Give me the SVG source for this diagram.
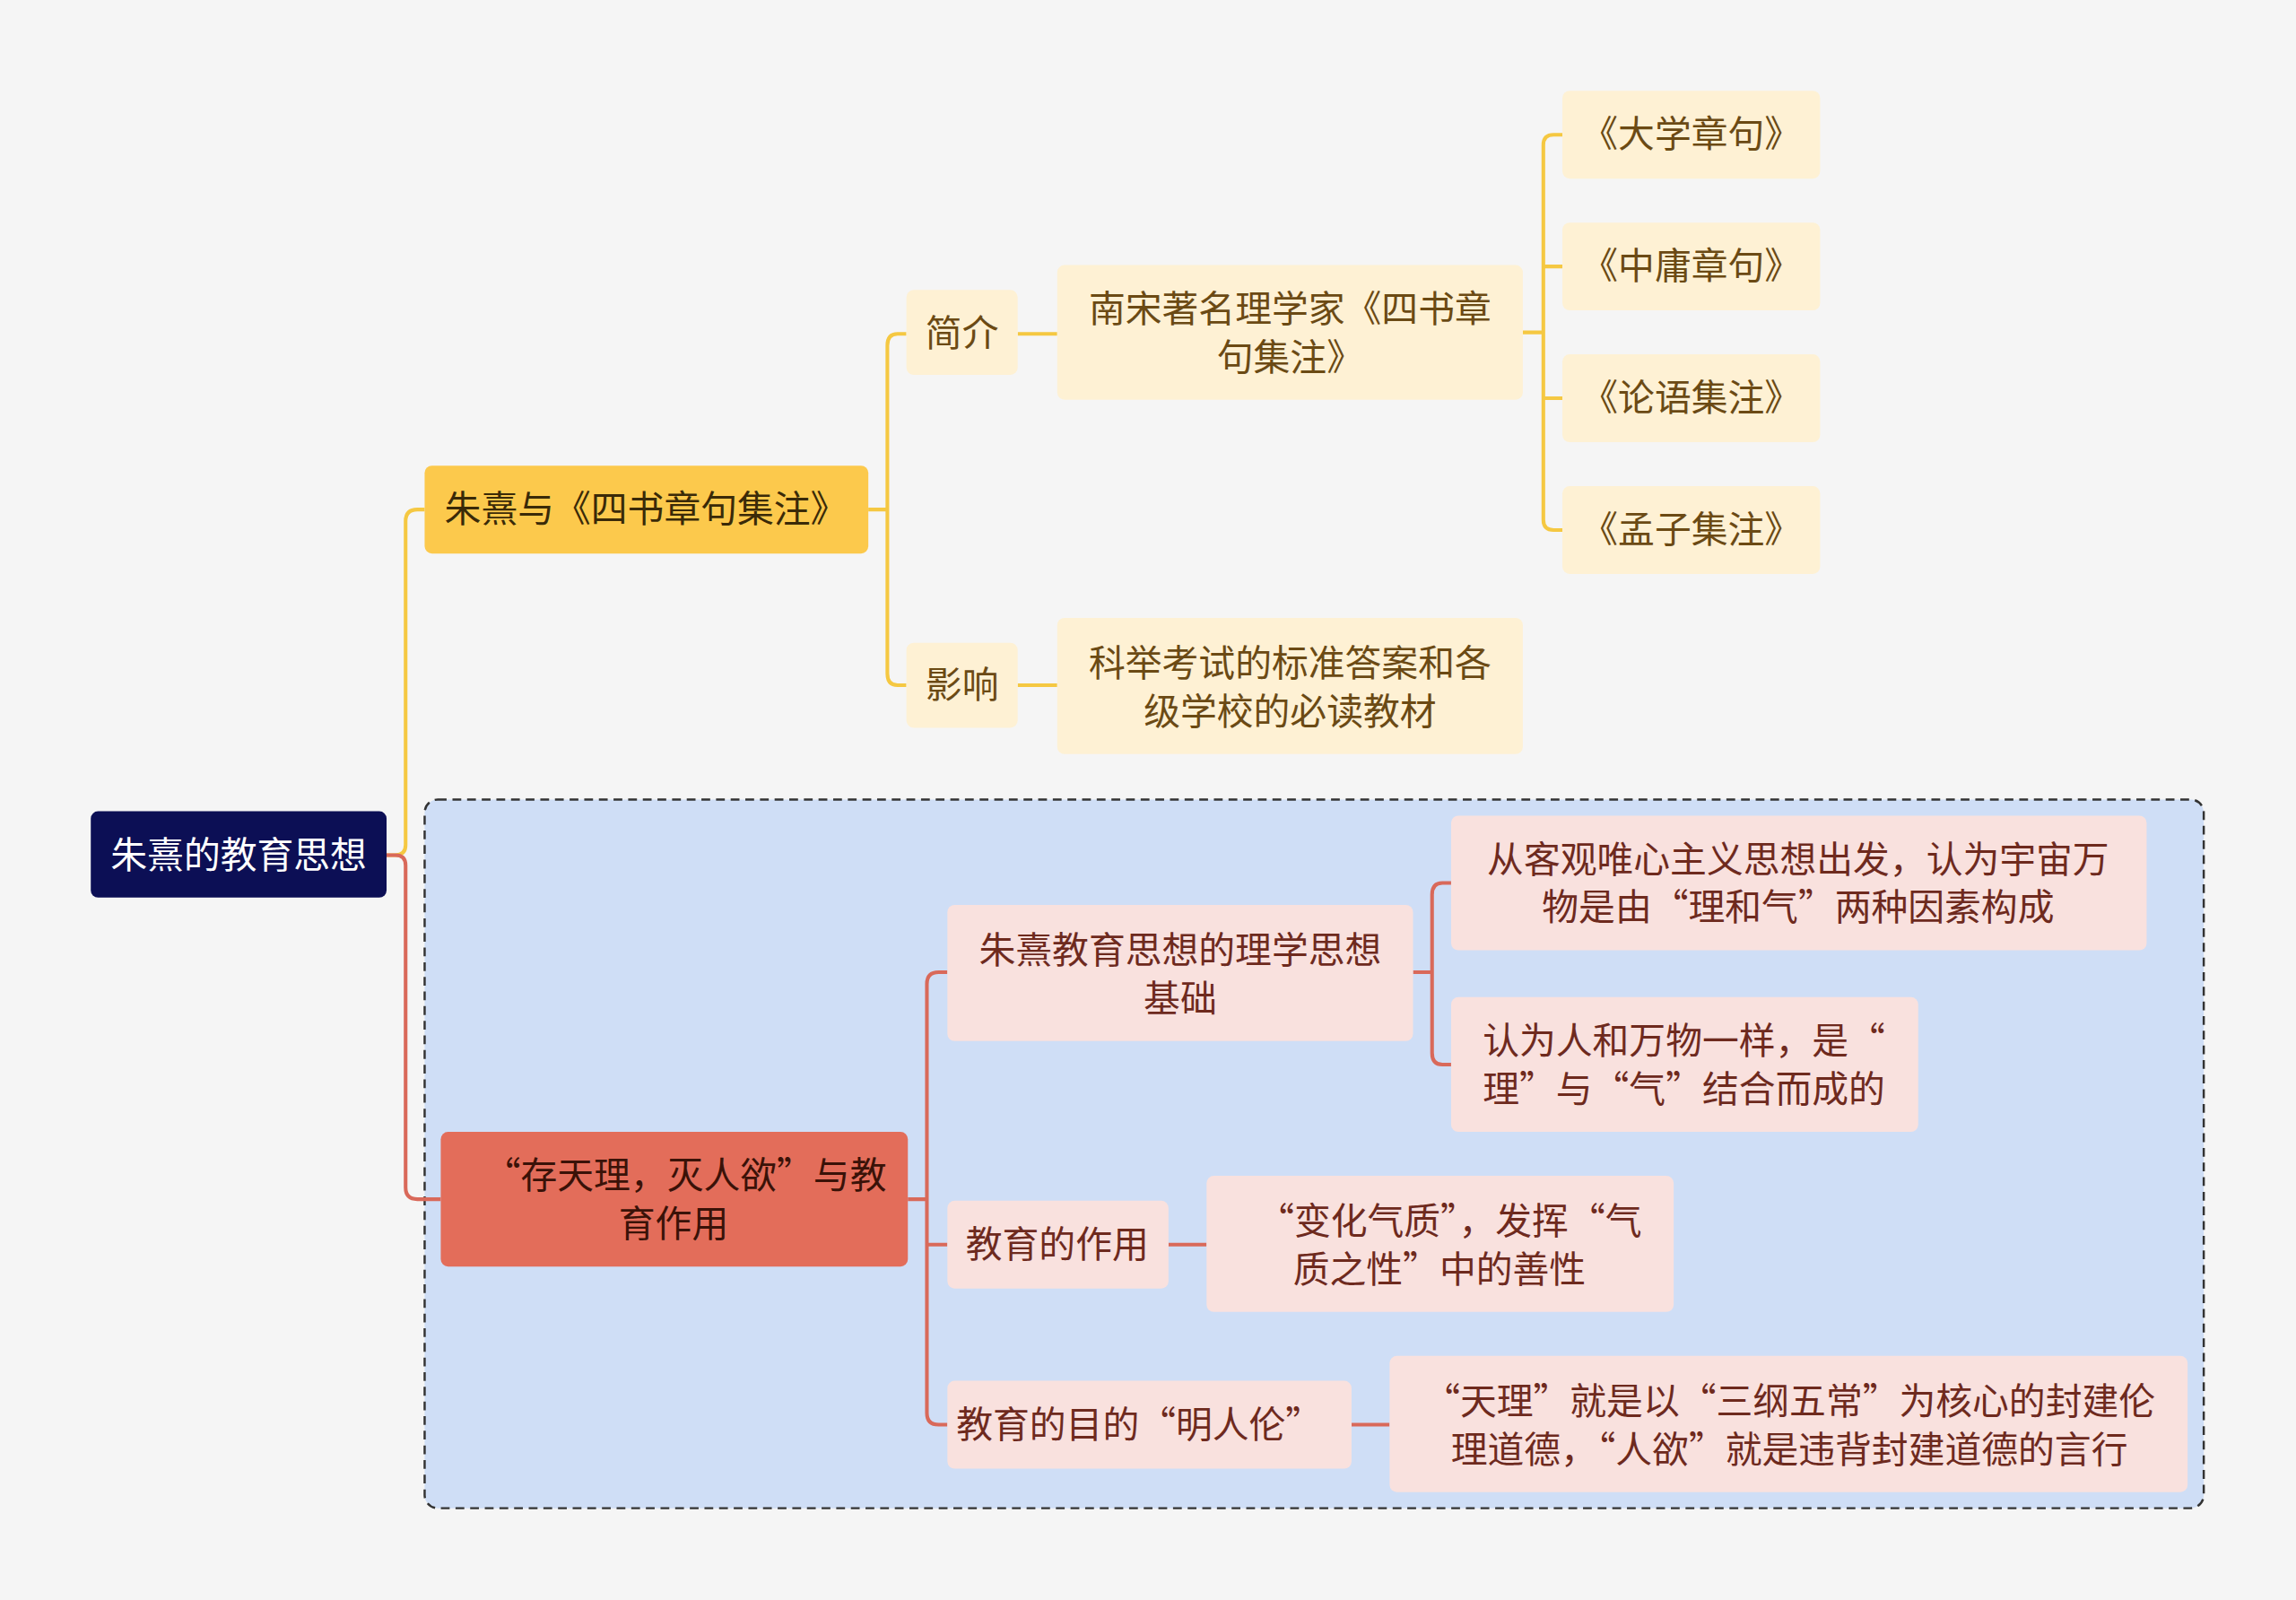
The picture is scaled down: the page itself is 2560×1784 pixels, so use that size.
<svg xmlns="http://www.w3.org/2000/svg" width="2560" height="1784" viewBox="0 0 2560 1784">
<style>
text{font-family:"Noto Sans CJK SC","Noto Sans",sans-serif;font-size:25px;text-anchor:middle;dominant-baseline:central}
.y{fill:#fef1d4}.r{fill:#f9e1de}
.ty{fill:#6b4a14}.tr{fill:#6e2a1e}
.cy{fill:none;stroke:#f5c842;stroke-width:2.5}
.cr{fill:none;stroke:#d9695a;stroke-width:2.5}
</style>
<rect width="2560" height="1784" fill="#f5f5f5"/>
<g transform="scale(1.63265)">
<rect x="290" y="546" width="1215" height="484" rx="9" fill="#cfdef6" stroke="#333" stroke-width="1.5" stroke-dasharray="6 4"/>
<g id="connectors">
<path class="cy" d="M264 584H270Q277 584 277 577V356Q277 348 285 348H290"/>
<path class="cr" d="M264 584H270Q277 584 277 591V811Q277 819 285 819H301"/>
<path class="cy" d="M593 348H606M619 228H613Q606 228 606 236V460Q606 468 613 468H619"/>
<path class="cy" d="M695 228H722M695 468H722"/>
<path class="cy" d="M1040 227H1054M1067 92H1061Q1054 92 1054 99V355Q1054 362 1061 362H1067M1054 182H1067M1054 272H1067"/>
<path class="cr" d="M620 819H633M647 664H641Q633 664 633 672V965Q633 973 641 973H647M633 850H647"/>
<path class="cr" d="M965 664H978M991 603H985Q978 603 978 611V719Q978 727 985 727H991"/>
<path class="cr" d="M798 850H824M923 973H949"/>
</g>
<g id="root"><rect x="62" y="554" width="202" height="59" rx="5" fill="#0c0f55"/><text x="163" y="582" fill="#fff">朱熹的教育思想</text></g>
<g id="b1"><rect x="290" y="318" width="303" height="60" rx="5" fill="#fcc94c"/><text x="441" y="346" fill="#3a2a08">朱熹与《四书章句集注》</text></g>
<g id="jj"><rect class="y" x="619" y="198" width="76" height="58" rx="5"/><text class="ty" x="657" y="226">简介</text></g>
<g id="ns"><rect class="y" x="722" y="181" width="318" height="92" rx="5"/><text class="ty" x="881" y="209">南宋著名理学家《四书章</text><text class="ty" x="881" y="242">句集注》</text></g>
<g id="yx"><rect class="y" x="619" y="439" width="76" height="58" rx="5"/><text class="ty" x="657" y="466">影响</text></g>
<g id="kj"><rect class="y" x="722" y="422" width="318" height="93" rx="5"/><text class="ty" x="881" y="451">科举考试的标准答案和各</text><text class="ty" x="881" y="484">级学校的必读教材</text></g>
<g id="dx"><rect class="y" x="1067" y="62" width="176" height="60" rx="5"/><text class="ty" x="1155" y="90">《大学章句》</text></g>
<g id="zy"><rect class="y" x="1067" y="152" width="176" height="60" rx="5"/><text class="ty" x="1155" y="180">《中庸章句》</text></g>
<g id="ly"><rect class="y" x="1067" y="242" width="176" height="60" rx="5"/><text class="ty" x="1155" y="270">《论语集注》</text></g>
<g id="mz"><rect class="y" x="1067" y="332" width="176" height="60" rx="5"/><text class="ty" x="1155" y="360">《孟子集注》</text></g>
<g id="b2"><rect x="301" y="773" width="319" height="92" rx="5" fill="#e36d5a"/><text x="468" y="801" fill="#3a1208">“存天理，灭人欲”与教</text><text x="460" y="834" fill="#3a1208">育作用</text></g>
<g id="lx"><rect class="r" x="647" y="618" width="318" height="93" rx="5"/><text class="tr" x="806" y="647">朱熹教育思想的理学思想</text><text class="tr" x="806" y="680">基础</text></g>
<g id="ck"><rect class="r" x="991" y="557" width="475" height="92" rx="5"/><text class="tr" x="1228" y="585">从客观唯心主义思想出发，认为宇宙万</text><text class="tr" x="1228" y="618">物是由“理和气”两种因素构成</text></g>
<g id="rw"><rect class="r" x="991" y="681" width="319" height="92" rx="5"/><text class="tr" x="1150" y="709">认为人和万物一样，是“</text><text class="tr" x="1150" y="742">理”与“气”结合而成的</text></g>
<g id="zyy"><rect class="r" x="647" y="820" width="151" height="60" rx="5"/><text class="tr" x="722" y="848">教育的作用</text></g>
<g id="bh"><rect class="r" x="824" y="803" width="319" height="93" rx="5"/><text class="tr" x="990" y="832">“变化气质”，发挥“气</text><text class="tr" x="983" y="865">质之性”中的善性</text></g>
<g id="md"><rect class="r" x="647" y="943" width="276" height="60" rx="5"/><text class="tr" x="778" y="971">教育的目的“明人伦”</text></g>
<g id="tl"><rect class="r" x="949" y="926" width="545" height="93" rx="5"/><text class="tr" x="1222" y="955">“天理”就是以“三纲五常”为核心的封建伦</text><text class="tr" x="1222" y="988">理道德，“人欲”就是违背封建道德的言行</text></g>
</g>
</svg>
